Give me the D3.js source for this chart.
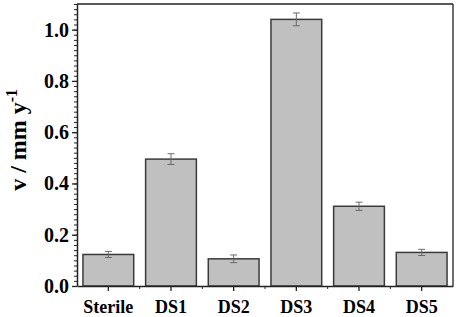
<!DOCTYPE html>
<html>
<head>
<meta charset="utf-8">
<script src="https://cdn.jsdelivr.net/npm/d3@7"></script>
<style>
  body { margin: 0; background: #fff; }
</style>
</head>
<body>
<div id="chart"></div>
<script>
// chart data
var categories = ["Sterile", "DS1", "DS2", "DS3", "DS4", "DS5"];
var rates = [0.123, 0.495, 0.106, 1.040, 0.311, 0.131];
var errors = [0.012, 0.021, 0.015, 0.025, 0.016, 0.012];
var yTicks = [0.0, 0.2, 0.4, 0.6, 0.8, 1.0];

var W = 459, H = 317;
var margin = {top: 4, right: 6, bottom: 31, left: 77};
var width = W - margin.left - margin.right;
var height = H - margin.top - margin.bottom;
var serif = "'Liberation Serif', 'Times New Roman', serif";

var svg = d3.select("#chart").append("svg")
    .attr("width", W)
    .attr("height", H);

var g = svg.append("g")
    .attr("transform", "translate(" + margin.left + "," + margin.top + ")");

var x = d3.scaleBand()
    .domain(categories)
    .range([0, width])
    .paddingInner(0.19)
    .paddingOuter(0.095);

var y = d3.scaleLinear()
    .domain([0, 1.1])
    .range([height, 0]);

var axisColor = "#222";

// bars
g.selectAll("rect.bar")
    .data(rates)
    .enter().append("rect")
    .attr("class", "bar")
    .attr("x", function(d, i) { return x(categories[i]); })
    .attr("y", function(d) { return y(d); })
    .attr("width", x.bandwidth())
    .attr("height", function(d) { return height - y(d); })
    .attr("fill", "#c0c0c0")
    .attr("stroke", "#3a3a3a")
    .attr("stroke-width", 1.5);

// error bars
var eb = g.selectAll("g.err")
    .data(rates)
    .enter().append("g")
    .attr("class", "err")
    .attr("stroke", "#6a6a6a")
    .attr("stroke-width", 1);

eb.append("line")
    .attr("x1", function(d, i) { return x(categories[i]) + x.bandwidth() / 2; })
    .attr("x2", function(d, i) { return x(categories[i]) + x.bandwidth() / 2; })
    .attr("y1", function(d, i) { return y(d + errors[i]); })
    .attr("y2", function(d, i) { return y(d - errors[i]); });

[1, -1].forEach(function(s) {
    eb.append("line")
        .attr("x1", function(d, i) { return x(categories[i]) + x.bandwidth() / 2 - 3.5; })
        .attr("x2", function(d, i) { return x(categories[i]) + x.bandwidth() / 2 + 3.5; })
        .attr("y1", function(d, i) { return y(d + s * errors[i]); })
        .attr("y2", function(d, i) { return y(d + s * errors[i]); });
});

// frame (top and right)
g.append("line")
    .attr("x1", 0).attr("x2", width).attr("y1", 0).attr("y2", 0)
    .attr("stroke", axisColor).attr("stroke-width", 1.3);
g.append("line")
    .attr("x1", width).attr("x2", width).attr("y1", 0).attr("y2", height)
    .attr("stroke", axisColor).attr("stroke-width", 1.3);

// y axis minor ticks
var yMinor = g.append("g")
    .call(d3.axisLeft(y).ticks(55).tickSize(3).tickFormat(""));
yMinor.select(".domain").remove();
yMinor.selectAll("line").attr("stroke", axisColor);

// y axis major
var yAxis = g.append("g")
    .call(d3.axisLeft(y).tickValues(yTicks).tickSize(5).tickSizeOuter(0).tickPadding(3)
        .tickFormat(d3.format(".1f")));
yAxis.attr("font-family", serif).attr("font-size", 20).attr("font-weight", "bold");
yAxis.select(".domain").attr("stroke", axisColor).attr("stroke-width", 1.5);
yAxis.selectAll("line").attr("stroke", axisColor).attr("stroke-width", 1.3);
yAxis.selectAll("text").attr("fill", "#000");

// x axis minor ticks at band boundaries
var step = x.step();
var bounds = categories.slice(1).map(function(c) { return x(c) - (step - x.bandwidth()) / 2; });
g.append("g")
    .selectAll("line")
    .data(bounds)
    .enter().append("line")
    .attr("x1", function(d) { return d; })
    .attr("x2", function(d) { return d; })
    .attr("y1", height)
    .attr("y2", height + 3)
    .attr("stroke", axisColor);

// x axis
var xAxis = g.append("g")
    .attr("transform", "translate(0," + height + ")")
    .call(d3.axisBottom(x).tickSize(5).tickSizeOuter(0).tickPadding(9));
xAxis.attr("font-family", serif).attr("font-size", 18).attr("font-weight", "bold");
xAxis.select(".domain").attr("stroke", axisColor).attr("stroke-width", 1.5);
xAxis.selectAll("line").attr("stroke", axisColor).attr("stroke-width", 1.3);
xAxis.selectAll("text").attr("fill", "#000");

// y title
var title = svg.append("text")
    .attr("transform", "translate(26," + (margin.top + y(0.57)) + ") rotate(-90)")
    .attr("text-anchor", "middle")
    .attr("font-family", serif)
    .attr("font-weight", "bold")
    .attr("font-size", 24)
    .attr("fill", "#000");
title.append("tspan").text("v / mm y");
title.append("tspan").attr("dy", -9).attr("font-size", 16).text("-1");
</script>
</body>
</html>
